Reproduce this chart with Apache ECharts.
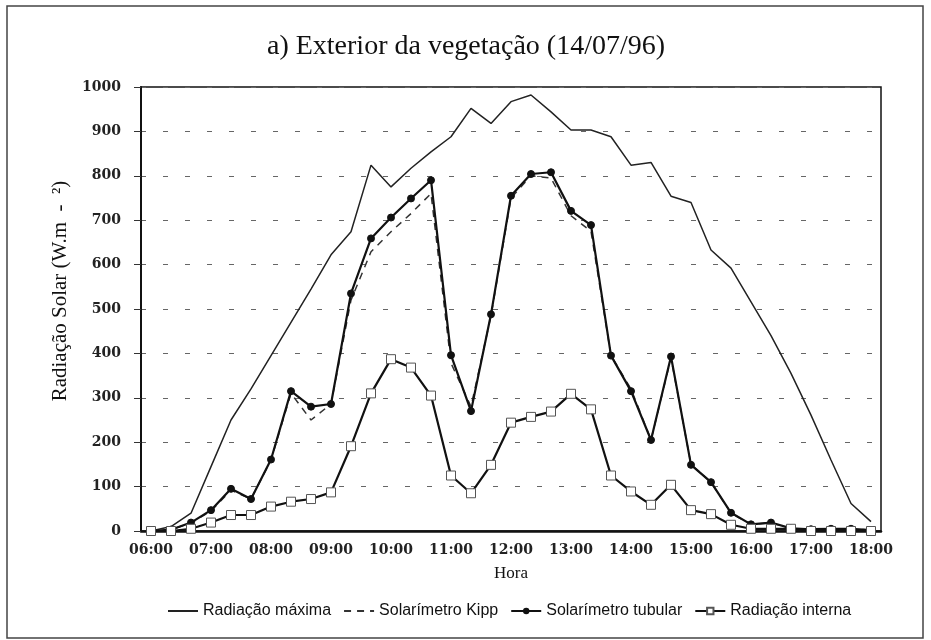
<!DOCTYPE html>
<html>
<head>
<meta charset="utf-8">
<script src="https://cdn.jsdelivr.net/npm/echarts@6/dist/echarts.min.js"></script>
<style>
  html, body { margin: 0; padding: 0; background: #fff; }
  #chart { width: 931px; height: 640px; }
</style>
</head>
<body>
<div id="chart"></div>
<script>
// horas, a cada 20 minutos
var horas = ["06:00", "06:20", "06:40", "07:00", "07:20", "07:40", "08:00", "08:20", "08:40",
  "09:00", "09:20", "09:40", "10:00", "10:20", "10:40", "11:00", "11:20", "11:40",
  "12:00", "12:20", "12:40", "13:00", "13:20", "13:40", "14:00", "14:20", "14:40",
  "15:00", "15:20", "15:40", "16:00", "16:20", "16:40", "17:00", "17:20", "17:40", "18:00"];

var radMaxima = [0, 10, 40, 145, 250, 320, 395, 470, 545, 622, 674, 824, 775, 817, 854, 888, 952, 918, 967,
  982, 944, 903, 903, 888, 824, 830, 754, 740, 633, 592, 516, 440, 355, 261, 160, 62, 21];

var kipp = [0, 3, 18, 45, 92, 72, 160, 310, 250, 286, 520, 629, 674, 715, 760, 378, 280, 485, 750,
  800, 795, 710, 675, 395, 320, 205, 390, 150, 110, 40, 15, 18, 6, 4, 5, 5, 2];

var tubular = [0, 3, 19, 47, 95, 72, 161, 315, 280, 286, 535, 659, 706, 749, 790, 396, 270, 488, 755,
  804, 808, 721, 689, 395, 315, 205, 393, 149, 110, 41, 15, 19, 6, 4, 5, 5, 2];

var interna = [0, 0, 5, 19, 36, 36, 55, 66, 72, 87, 191, 310, 387, 368, 305, 125, 85, 149, 244,
  257, 269, 309, 274, 125, 89, 59, 104, 47, 38, 14, 5, 5, 5, 0, 0, 0, 0];

var nomes = ["Radiação máxima", "Solarímetro Kipp", "Solarímetro tubular", "Radiação interna"];

var myChart = echarts.init(document.getElementById("chart"));
myChart.setOption({
  animation: false,
  backgroundColor: "#fff",
  title: {
    text: "a) Exterior da vegetação (14/07/96)",
    left: 461,
    top: 28,
    textAlign: "center",
    textStyle: { fontFamily: "Liberation Serif", fontSize: 28, fontWeight: "normal", color: "#111" }
  },
  graphic: [
    {
      type: "rect",
      shape: { x: 7, y: 6, width: 916, height: 632 },
      style: { fill: "none", stroke: "#444", lineWidth: 1.5 },
      silent: true
    },
    {
      type: "text",
      x: 60,
      y: 291,
      rotation: Math.PI / 2,
      style: {
        text: "Radiação Solar (W.m  -  ²)",
        fontFamily: "Liberation Serif",
        fontSize: 21,
        fill: "#111",
        textAlign: "center",
        textVerticalAlign: "middle"
      }
    }
  ],
  legend: {
    // sem marcador nas duas primeiras (só a linha)
    data: [
      { name: nomes[0], itemStyle: { color: "transparent", opacity: 0 } },
      { name: nomes[1], itemStyle: { color: "transparent", opacity: 0 } },
      { name: nomes[2] },
      { name: nomes[3] }
    ],
    left: 162,
    top: 598,
    itemWidth: 30,
    itemHeight: 8,
    itemGap: 12,
    textStyle: { fontFamily: "Liberation Sans", fontSize: 16, color: "#111" }
  },
  grid: {
    left: 141,
    right: 50,
    top: 87,
    bottom: 109,
    show: true,
    borderColor: "#111",
    borderWidth: 1.5
  },
  xAxis: {
    type: "category",
    data: horas,
    boundaryGap: true,
    name: "Hora",
    nameLocation: "middle",
    nameGap: 34,
    nameTextStyle: { fontFamily: "Liberation Serif", fontSize: 17, color: "#111" },
    axisLine: { lineStyle: { color: "#111", width: 2.5 } },
    axisTick: { show: false },
    axisLabel: {
      interval: 2,
      margin: 12,
      fontFamily: "DejaVu Serif",
      fontWeight: "bold",
      fontSize: 14,
      color: "#222"
    }
  },
  yAxis: {
    type: "value",
    min: 0,
    max: 1000,
    interval: 100,
    axisLine: { show: true, lineStyle: { color: "#111", width: 2 } },
    axisTick: { show: true, length: 7, lineStyle: { color: "#333" } },
    axisLabel: {
      margin: 20,
      fontFamily: "DejaVu Serif",
      fontWeight: "bold",
      fontSize: 14,
      color: "#222",
      formatter: function (v) { return String(v); }
    },
    splitLine: {
      lineStyle: { color: "#666", type: [5, 17], width: 1 }
    }
  },
  series: [
    {
      name: nomes[0],
      type: "line",
      data: radMaxima,
      symbol: "none",
      lineStyle: { color: "#222", width: 1.5 },
      itemStyle: { color: "#222" }
    },
    {
      name: nomes[1],
      type: "line",
      data: kipp,
      symbol: "none",
      lineStyle: { color: "#333", width: 1.5, type: [7, 6] },
      itemStyle: { color: "#333" }
    },
    {
      name: nomes[2],
      type: "line",
      data: tubular,
      symbol: "circle",
      symbolSize: 7,
      lineStyle: { color: "#111", width: 2.2 },
      itemStyle: { color: "#111", borderColor: "#111" }
    },
    {
      name: nomes[3],
      type: "line",
      data: interna,
      symbol: "rect",
      symbolSize: 9,
      lineStyle: { color: "#111", width: 2.2 },
      itemStyle: { color: "#fff", borderColor: "#555", borderWidth: 1 }
    }
  ]
});
</script>
</body>
</html>
